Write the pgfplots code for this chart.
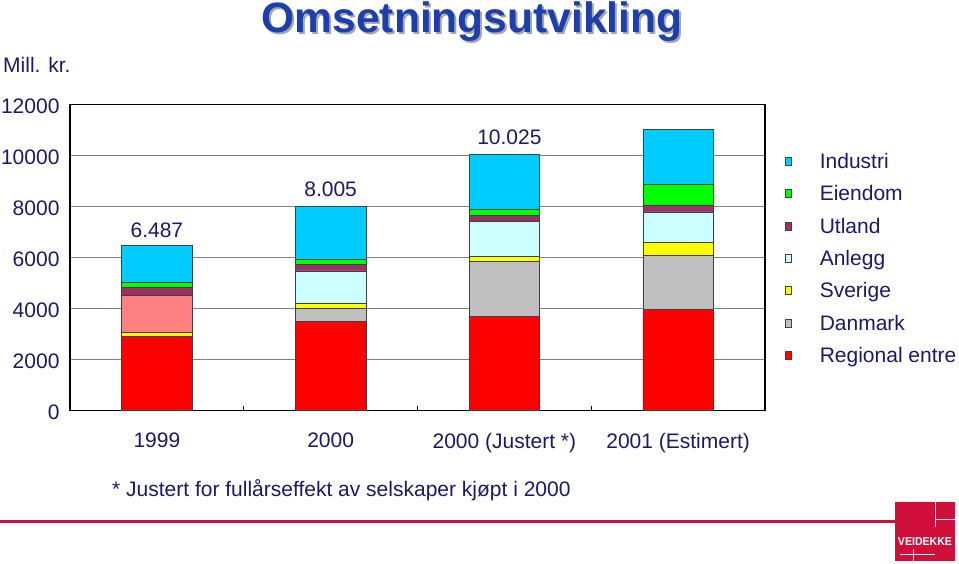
\documentclass[border=0pt]{standalone}
\usepackage{fontspec}
\setmainfont{Liberation Sans}
\usepackage{pgfplots}
\pgfplotsset{compat=1.18}

\definecolor{txtnavy}{HTML}{1A1A66}
\definecolor{titleblue}{HTML}{1C3FAA}
\definecolor{cIndustri}{HTML}{00CCFF}
\definecolor{cEiendom}{HTML}{00FF00}
\definecolor{cUtland}{HTML}{993366}
\definecolor{cAnlegg}{HTML}{CCFFFF}
\definecolor{cAnlegg99}{HTML}{FF8080}
\definecolor{cSverige}{HTML}{FFFF00}
\definecolor{cDanmark}{HTML}{C0C0C0}
\definecolor{cRegional}{HTML}{FF0000}
\definecolor{vkred}{HTML}{D0103A}

\newcommand{\chartfont}{\fontsize{21}{24}\selectfont}

\begin{document}
\begin{tikzpicture}
\useasboundingbox (0,0) rectangle (959pt,564pt);

% title with shadow
\node[anchor=base, font=\fontsize{42.5}{48}\selectfont\bfseries, text=black!35] at (474pt,529pt) {Omsetningsutvikling};
\node[anchor=base, font=\fontsize{42.5}{48}\selectfont\bfseries, text=titleblue] at (472pt,531pt) {Omsetningsutvikling};

\node[anchor=base west, inner sep=0pt, font=\chartfont, text=txtnavy] at (3pt,491pt) {Mill. kr.};

\begin{axis}[
  at={(70pt,153.3pt)}, anchor=south west,
  scale only axis, width=695pt, height=306.4pt,
  ybar stacked, bar width=70.5pt,
  xmin=-0.5, xmax=3.5, ymin=0, ymax=12000,
  xtick={0,1,2,3},
  xticklabels={1999, 2000, 2000 (Justert *), 2001 (Estimert)},
  extra x ticks={0.5,1.5,2.5},
  extra x tick labels={},
  extra x tick style={major tick length=5pt, tick style={black, line width=0.6pt}},
  major tick length=0pt,
  tick align=inside,
  tick pos=left,
  ytick={0,2000,...,12000},
  scaled y ticks=false,
  ymajorgrids,
  grid style={gray, line width=0.8pt},
  axis line style={black, line width=1.3pt},
  /pgf/number format/assume math mode=true,
  /pgf/number format/1000 sep={},
  tick label style={font=\chartfont, text=txtnavy},
  yticklabel style={xshift=-7pt, yshift=-2pt},
  xticklabel style={yshift=-19pt},
  /pgfplots/ybar legend/.style={
    /pgfplots/legend image code/.code={
      \draw[##1, draw=black!80, line width=0.6pt] (0pt,-5.5pt) rectangle (11pt,5.5pt);}},
  reverse legend,
  legend style={at={(1.0288,0.84)}, anchor=north west, draw=none, fill=none,
    inner sep=0pt, font=\chartfont, text=txtnavy, row sep=13.4pt, column sep=0pt,
    nodes={inner sep=0pt, text height=14.7pt, text depth=4.3pt}},
  legend cell align=left,
  every axis plot/.append style={draw=black!75, line width=0.6pt},
]
\addplot[fill=cRegional] coordinates {(0,2924) (1,3483) (2,3706) (3,3969)};
\addlegendentry{\hspace{28pt}Regional entre}
\addplot[fill=cDanmark] coordinates {(0,0) (1,525) (2,2126) (3,2125)};
\addlegendentry{\hspace{28pt}Danmark}
\addplot[fill=cSverige] coordinates {(0,156) (1,180) (2,223) (3,497)};
\addlegendentry{\hspace{28pt}Sverige}
\addplot[fill=cAnlegg] coordinates {(0,0) (1,1290) (2,1343) (3,1198)};
\addlegendentry{\hspace{28pt}Anlegg}
\addplot[fill=cAnlegg99, forget plot] coordinates {(0,1448) (1,0) (2,0) (3,0)};
\addplot[fill=cUtland] coordinates {(0,300) (1,262) (2,250) (3,274)};
\addlegendentry{\hspace{28pt}Utland}
\addplot[fill=cEiendom] coordinates {(0,196) (1,183) (2,259) (3,810)};
\addlegendentry{\hspace{28pt}Eiendom}
\addplot[fill=cIndustri] coordinates {(0,1462) (1,2080) (2,2118) (3,2141)};
\addlegendentry{\hspace{28pt}Industri}

\node[anchor=base, font=\chartfont, text=txtnavy, yshift=8pt] at (axis cs:0,6487) {6.487};
\node[anchor=base, font=\chartfont, text=txtnavy, yshift=10pt] at (axis cs:1,8005) {8.005};
\node[anchor=base, font=\chartfont, text=txtnavy, yshift=10pt, xshift=5pt] at (axis cs:2,10025) {10.025};
\end{axis}

\node[anchor=base west, inner sep=0pt, font=\chartfont, text=txtnavy] at (112pt,67pt) {* Justert for fullårseffekt av selskaper kjøpt i 2000};

% bottom rule and logo
\draw[vkred, line width=3pt] (0pt,42pt) -- (895pt,42pt);
\fill[vkred] (895pt,3pt) rectangle (955pt,62pt);
\draw[white, line width=1pt] (935pt,62pt) -- (935pt,37pt) (935pt,44pt) -- (955pt,44pt);
\draw[white, line width=1pt] (900pt,9pt) -- (935pt,9pt) (913pt,3pt) -- (913pt,15pt);
\node[inner sep=0pt, font=\fontsize{11.5}{12}\selectfont\bfseries, text=white, xscale=0.92] at (925pt,22pt) {VEIDEKKE};
\end{tikzpicture}
\end{document}
